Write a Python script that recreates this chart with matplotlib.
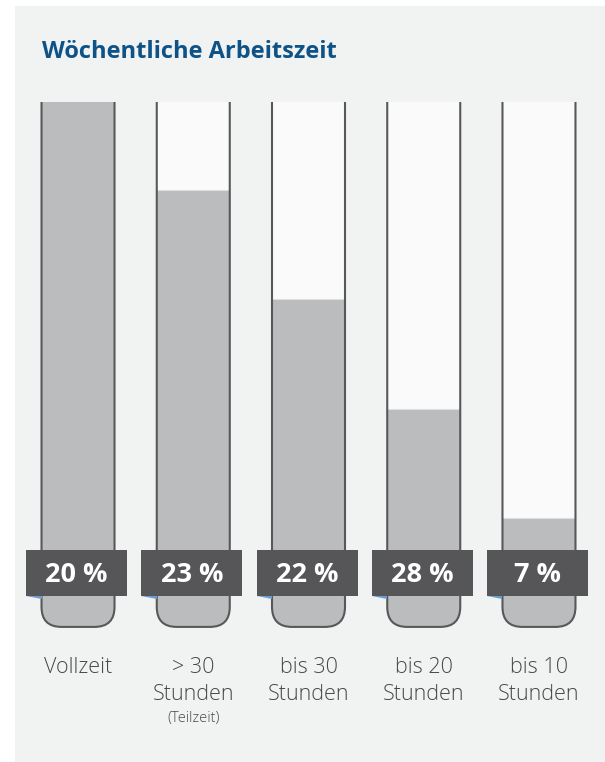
import matplotlib
matplotlib.use('Agg')
import matplotlib.pyplot as plt
from matplotlib.patches import FancyBboxPatch, Rectangle, Polygon

plt.rcParams['font.family'] = ['Open Sans', 'DejaVu Sans']

# data
categories = ['Vollzeit', '> 30\nStunden', 'bis 30\nStunden', 'bis 20\nStunden', 'bis 10\nStunden']
shares = [20, 23, 22, 28, 7]
hours = [48, 40, 30, 20, 10]   # fill level of each tube
max_hours = 48

W, H = 605, 762
fig = plt.figure(figsize=(W / 100, H / 100), dpi=100, facecolor='white')

# light grey panel
fig.patches.append(Rectangle((15 / W, 0), 1, 1 - 6 / H, transform=fig.transFigure,
                             facecolor='#f1f2f2', edgecolor='none', zorder=-5))

fig.text(42 / W, 1 - 58 / H, 'Wöchentliche Arbeitszeit', color='#0e5387',
         fontsize=17, fontweight='bold', va='baseline', ha='left')

ax_left, ax_right = 20.4, 596.6
ax_top, ax_bottom = 102, 628
ax = fig.add_axes([ax_left / W, 1 - ax_bottom / H, (ax_right - ax_left) / W, (ax_bottom - ax_top) / H])
ax.set_zorder(1)
ax.set_xlim(-0.5, 4.5)
ax.set_ylim(0, max_hours)
ax.axis('off')

px_x = (4.5 + 0.5) / (ax_right - ax_left)   # data units per pixel
px_y = max_hours / (ax_bottom - ax_top)

tube_w = 73 * px_x
radius = 20 * px_x
aspect = px_y / px_x

for i, (lvl, pct) in enumerate(zip(hours, shares)):
    x0 = i - tube_w / 2
    # tube body (white)
    body = FancyBboxPatch((x0, 0.1), tube_w, max_hours + 5,
                          boxstyle=f'round,pad=0,rounding_size={radius}',
                          mutation_aspect=aspect, facecolor='#fafafa',
                          edgecolor='none', zorder=1)
    ax.add_patch(body)
    # filled part
    fill = Rectangle((x0, -1), tube_w, lvl + 1, facecolor='#bbbcbe', edgecolor='none', zorder=2)
    fill.set_clip_path(body)
    ax.add_patch(fill)
    if lvl < max_hours:
        ax.plot([x0, x0 + tube_w], [lvl, lvl], color='#dedfe0', lw=0.8, zorder=2.5)
    # walls
    wall = FancyBboxPatch((x0, 0.1), tube_w, max_hours + 5,
                          boxstyle=f'round,pad=0,rounding_size={radius}',
                          mutation_aspect=aspect, facecolor='none',
                          edgecolor='#58585a', lw=1.5, zorder=3)
    ax.add_patch(wall)

    # percentage label box
    bx0 = i - 52 * px_x
    by0 = (ax_bottom - 596) * px_y
    ax.add_patch(Polygon([[bx0, by0], [x0, by0], [x0, by0 - 3 * px_y]], closed=True,
                         facecolor='#6a9bd1', edgecolor='none', zorder=3.5, clip_on=False))
    ax.add_patch(Rectangle((bx0, by0), 101 * px_x, 46 * px_y, facecolor='#565658',
                           edgecolor='none', zorder=4, clip_on=False))
    ax.text(bx0 + 50.5 * px_x, by0 + 21.5 * px_y, f'{pct} %', color='white', fontsize=19.5,
            fontweight='bold', ha='center', va='center', zorder=5, clip_on=False)

    # category label
    ax.text(i, (ax_bottom - 657) * px_y, categories[i], ha='center', va='top',
            fontsize=15.5, fontweight='light', color='#48484a', linespacing=1.38,
            clip_on=False)

ax.text(1, (ax_bottom - 711) * px_y, '(Teilzeit)', ha='center', va='top',
        fontsize=10.5, fontweight='light', color='#48484a', clip_on=False)

fig.savefig('out.png', dpi=100, facecolor='white')
